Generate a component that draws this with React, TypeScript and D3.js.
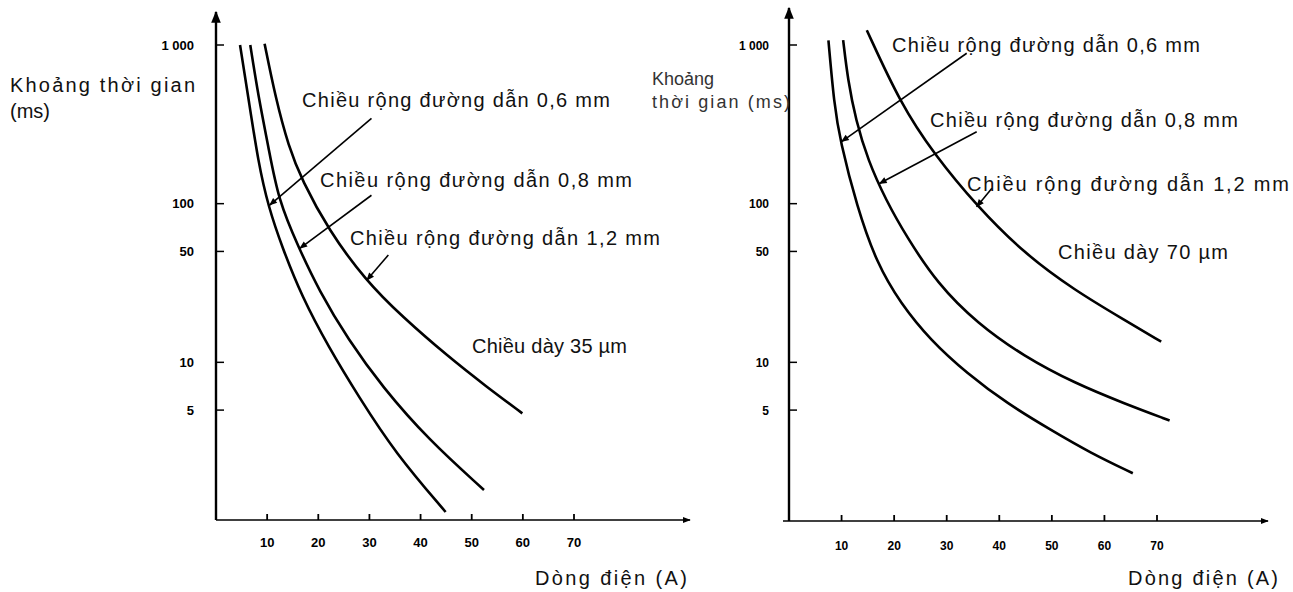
import React from "react";
import * as d3 from "d3";

// ---------- data ----------
const currentTicks = [10, 20, 30, 40, 50, 60, 70];
const timeTicks = [1000, 100, 50, 10, 5];
const timeTickLabels = ["1 000", "100", "50", "10", "5"];

// [current (A), time (ms)] — copper thickness 35 µm
const t35w06 = [[4.7, 1000], [6.3, 472], [8.3, 179], [10.25, 95.6], [12.9, 53.5], [16.8, 25.9], [22.0, 12.5], [27.9, 6.07], [35.1, 2.67], [44.9, 1.14]];
const t35w08 = [[6.7, 1000], [8.3, 472], [10.25, 228], [12.2, 105], [16.1, 53.5], [20.1, 28.5], [25.9, 13.8], [32.5, 7.02], [41.6, 3.24], [52.4, 1.57]];
const t35w12 = [[9.5, 1020], [11.6, 472], [14.2, 228], [16.8, 141], [22.0, 68.2], [29.2, 33.0], [36.4, 19.4], [45.5, 10.8], [52.7, 7.1], [59.9, 4.77]];

// copper thickness 70 µm
const t70w06 = [[7.5, 1070], [8.6, 420], [9.7, 252], [12.9, 96], [16.7, 42], [21.2, 23.6], [26.9, 13.8], [33.9, 8.5], [41.5, 5.5], [49.8, 3.75], [57.4, 2.68], [65.4, 2.0]];
const t70w08 = [[10.3, 1074], [11.2, 602], [12.7, 337], [15.0, 188], [18.45, 105], [22.4, 61.6], [28.2, 31.4], [35.8, 17.6], [44.7, 10.9], [54.3, 7.4], [63.8, 5.5], [72.4, 4.3]];
const t70w12 = [[14.8, 1240], [21.2, 428], [27.5, 207], [35.8, 96], [44.7, 48.7], [54.3, 28.5], [63.8, 18.5], [70.8, 13.5]];

// leader lines [fromA, fromMs, toA, toMs]
const leaders35 = [[30.4, 345, 10.5, 98], [30.4, 113, 16.4, 52.3], [33.7, 47.5, 29.5, 33]];
const leaders70 = [[33.8, 887, 10.0, 246], [35.7, 284, 17.2, 134], [38.6, 125, 35.7, 95.7]];

const widthLabels = ["Chiều rộng đường dẫn 0,6 mm", "Chiều rộng đường dẫn 0,8 mm", "Chiều rộng đường dẫn 1,2 mm"];

const FONT = "'Liberation Sans', Arial, Helvetica, sans-serif";

type Lbl = { text: string; x: number; y: number; len?: number; size?: number; color?: string };

const panels = [
  {
    id: "p35",
    xr: [216, 574],
    axisTop: 12,
    axisLeft: 216,
    axisRight: 690,
    axisY: 520,
    tickLabelEnd: 194,
    tickFont: 13,
    xLabelY: 547,
    series: [t35w06, t35w08, t35w12],
    leaders: leaders35,
    labels: [
      { text: widthLabels[0], x: 302, y: 107, len: 308 },
      { text: widthLabels[1], x: 320, y: 187, len: 312 },
      { text: widthLabels[2], x: 350, y: 245, len: 310 },
      { text: "Chiều dày 35 µm", x: 472, y: 353, len: 155 },
      { text: "Khoảng thời gian", x: 10, y: 92, len: 185 },
      { text: "(ms)", x: 10, y: 118 },
      { text: "Dòng điện (A)", x: 535, y: 585, len: 152 },
    ] as Lbl[],
  },
  {
    id: "p70",
    xr: [789, 1157],
    axisTop: 8,
    axisLeft: 783,
    axisRight: 1268,
    axisY: 521,
    tickLabelEnd: 769,
    tickFont: 12,
    xLabelY: 550,
    series: [t70w06, t70w08, t70w12],
    leaders: leaders70,
    labels: [
      { text: widthLabels[0], x: 892, y: 52, len: 308 },
      { text: widthLabels[1], x: 930, y: 127, len: 308 },
      { text: widthLabels[2], x: 967, y: 191, len: 322 },
      { text: "Chiều dày 70 µm", x: 1058, y: 259, len: 170 },
      { text: "Khoảng", x: 652, y: 85, size: 18, color: "#333" },
      { text: "thời gian (ms)", x: 652, y: 108, len: 138, size: 18, color: "#333" },
      { text: "Dòng điện (A)", x: 1128, y: 585, len: 150 },
    ] as Lbl[],
  },
];

function Panel({ p }: { p: (typeof panels)[number] }) {
  const x = d3.scaleLinear().domain([0, 70]).range(p.xr);
  const y = d3.scaleLog().domain([1, 1000]).range([521, 45]);
  const line = d3
    .line<number[]>()
    .x((d) => x(d[0]))
    .y((d) => y(d[1]))
    .curve(d3.curveBasis);
  const x0 = x(0);
  return (
    <g>
      <defs>
        <marker id={`arr-${p.id}`} viewBox="0 0 10 10" refX={9} refY={5} markerWidth={5} markerHeight={5} orient="auto" markerUnits="strokeWidth">
          <path d="M0,1 L10,5 L0,9 z" fill="#000" />
        </marker>
        <marker id={`head-${p.id}`} viewBox="0 0 10 10" refX={9} refY={5} markerWidth={6} markerHeight={5} orient="auto" markerUnits="strokeWidth">
          <path d="M0,1 L10,5 L0,9 z" fill="#000" />
        </marker>
      </defs>
      {/* axes */}
      <line x1={x0} x2={x0} y1={p.axisY} y2={p.axisTop} stroke="#000" strokeWidth={2.4} markerEnd={`url(#arr-${p.id})`} />
      <line x1={p.axisLeft} x2={p.axisRight} y1={p.axisY} y2={p.axisY} stroke="#000" strokeWidth={1.6} markerEnd={`url(#arr-${p.id})`} />
      {currentTicks.map((v) => (
        <g key={"xt" + v}>
          <line x1={x(v)} x2={x(v)} y1={p.axisY} y2={p.axisY - 6} stroke="#000" strokeWidth={1.8} />
          <text x={x(v)} y={p.xLabelY} textAnchor="middle" fontFamily={FONT} fontWeight="bold" fontSize={p.tickFont}>
            {v}
          </text>
        </g>
      ))}
      {timeTicks.map((v, i) => (
        <g key={"yt" + v}>
          <line x1={x0} x2={x0 + 8} y1={y(v)} y2={y(v)} stroke="#000" strokeWidth={1.5} />
          <text x={p.tickLabelEnd} y={y(v) + 4.5} textAnchor="end" fontFamily={FONT} fontWeight="bold" fontSize={p.tickFont}>
            {timeTickLabels[i]}
          </text>
        </g>
      ))}
      {/* curves */}
      {p.series.map((s, i) => (
        <path key={"s" + i} d={line(s) || ""} fill="none" stroke="#000" strokeWidth={2.6} strokeLinejoin="round" />
      ))}
      {/* leader lines */}
      {p.leaders.map((l, i) => (
        <line
          key={"l" + i}
          x1={x(l[0])}
          y1={y(l[1])}
          x2={x(l[2])}
          y2={y(l[3])}
          stroke="#000"
          strokeWidth={1.6}
          markerEnd={`url(#head-${p.id})`}
        />
      ))}
      {/* labels */}
      {p.labels.map((t, i) => (
        <text
          key={"t" + i}
          x={t.x}
          y={t.y}
          fontFamily={FONT}
          fontSize={t.size ?? 20}
          fill={t.color ?? "#111"}
          textLength={t.len}
          lengthAdjust={t.len ? "spacing" : undefined}
        >
          {t.text}
        </text>
      ))}
    </g>
  );
}

export default function App() {
  return (
    <div style={{ position: "absolute", left: 0, top: 0 }}>
      <svg width={1293} height={592} style={{ display: "block", background: "#fff" }}>
        <rect width={1293} height={592} fill="#fff" />
        {panels.map((p) => (
          <Panel key={p.id} p={p} />
        ))}
      </svg>
    </div>
  );
}
